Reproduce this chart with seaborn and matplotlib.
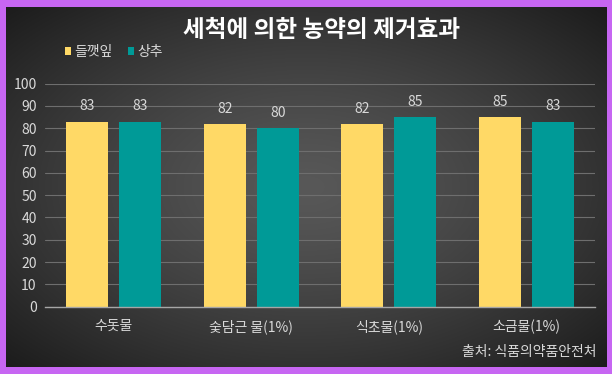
import numpy as np
import pandas as pd
import matplotlib
matplotlib.use("Agg")
import matplotlib.pyplot as plt
from matplotlib.patches import Patch
import seaborn as sns

categories = ["수돗물", "숯담근 물(1%)", "식초물(1%)", "소금물(1%)"]
series_names = ["들깻잎", "상추"]
perilla = [83, 82, 82, 85]
lettuce = [83, 80, 85, 83]
yticks = [0, 10, 20, 30, 40, 50, 60, 70, 80, 90, 100]
title = "세척에 의한 농약의 제거효과"
source = "출처: 식품의약품안전처"

colors = ["#FFD966", "#009A97"]
border = "#C766F2"
txt = "#D9D9D9"

sns.set_theme(style="dark")
plt.rcParams["font.family"] = ["Noto Sans CJK KR", "DejaVu Sans"]

df = pd.DataFrame({
    "cat": categories * 2,
    "val": perilla + lettuce,
    "series": [series_names[0]] * 4 + [series_names[1]] * 4,
})

W, H = 612, 374
fig = plt.figure(figsize=(W / 100, H / 100), dpi=100)
fig.patch.set_facecolor(border)

# background radial gradient
bx0, by0, bx1, by1 = 6, 7, 607, 367
bg = fig.add_axes([bx0 / W, (H - by1) / H, (bx1 - bx0) / W, (by1 - by0) / H])
ny, nx = 200, 330
yy, xx = np.mgrid[-1:1:ny * 1j, -1:1:nx * 1j]
r = np.sqrt(xx ** 2 + yy ** 2) / np.sqrt(2)
c0 = np.array([0x58, 0x58, 0x58]) / 255
c1 = np.array([0x1C, 0x1C, 0x1C]) / 255
t = np.clip(r, 0, 1) ** 1.3
img = c0[None, None, :] * (1 - t[..., None]) + c1[None, None, :] * t[..., None]
bg.imshow(img, aspect="auto", extent=[0, 1, 0, 1], interpolation="bilinear")
bg.set_axis_off()

# main axes
ax_l, ax_r, ax_t, ax_b = 45, 595, 83.7, 306.7
ax = fig.add_axes([ax_l / W, (H - ax_b) / H, (ax_r - ax_l) / W, (ax_b - ax_t) / H])
ax.set_facecolor("none")

sns.barplot(data=df, x="cat", y="val", hue="series", palette=colors,
            width=0.77, gap=0.21, saturation=1, ax=ax, legend=False,
            edgecolor="none")

ax.set_xlim(-0.5, 3.5)
ax.set_ylim(0, 100)
ax.set_yticks(yticks)
ax.set_yticklabels([str(v) for v in yticks], color=txt, fontsize=10)
ax.tick_params(axis="y", length=0, pad=6)
ax.tick_params(axis="x", length=0, pad=9, labelsize=10, labelcolor=txt)
ax.set_xlabel("")
ax.set_ylabel("")
for s in ["top", "right", "left"]:
    ax.spines[s].set_visible(False)
ax.spines["bottom"].set_color("#A6A6A6")
ax.spines["bottom"].set_linewidth(1)
ax.yaxis.grid(True, color="#6E6E6E", linewidth=0.8)
ax.xaxis.grid(False)
ax.set_axisbelow(True)

for cont in ax.containers:
    ax.bar_label(cont, fmt="%d", padding=6, color=txt, fontsize=10)

fig.text(322 / W, 1 - 30 / H, title, ha="center", va="center",
         color="white", fontsize=17, fontweight="bold")

handles = [Patch(facecolor=colors[i], edgecolor="none") for i in range(2)]
fig.legend(handles, series_names, loc="center left",
           bbox_to_anchor=(52 / W, 1 - 52 / H), ncol=2, frameon=False,
           handlelength=0.45, handleheight=0.45, handletextpad=0.25,
           columnspacing=1.1, prop={"size": 10, "weight": "medium"},
           labelcolor=txt)

fig.text(597 / W, 1 - 352 / H, source, ha="right", va="center",
         color=txt, fontsize=10, fontweight="medium")

fig.savefig("out.png", dpi=100, facecolor=fig.get_facecolor())
